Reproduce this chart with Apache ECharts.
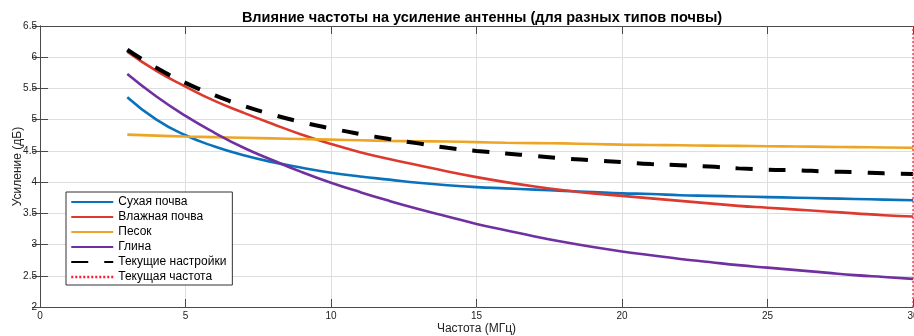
<!DOCTYPE html>
<html>
<head>
<meta charset="utf-8">
<script src="https://cdn.jsdelivr.net/npm/echarts@6/dist/echarts.min.js"></script>
<style>
  html, body { margin: 0; padding: 0; background: #fff; }
  #chart { width: 914px; height: 336px; }
</style>
</head>
<body>
<div id="chart"></div>
<script>
// Frequency grid, MHz
const freq = [3, 4, 5, 6, 7, 8, 9, 10, 11, 12, 13, 14, 15, 16, 17, 18, 19, 20,
              21, 22, 23, 24, 25, 26, 27, 28, 29, 30];

// Antenna gain, dB, per soil type
const drySoil = [5.36, 5.00, 4.75, 4.57, 4.43, 4.32, 4.23, 4.15, 4.09, 4.04, 3.99, 3.95, 3.92, 3.90,
                 3.88, 3.86, 3.84, 3.82, 3.81, 3.79, 3.78, 3.77, 3.76, 3.75, 3.74, 3.73, 3.72, 3.71];
const wetSoil = [6.09, 5.78, 5.53, 5.30, 5.11, 4.93, 4.76, 4.61, 4.48, 4.37, 4.27, 4.17, 4.08, 4.00,
                 3.93, 3.87, 3.82, 3.78, 3.74, 3.70, 3.66, 3.62, 3.59, 3.56, 3.53, 3.50, 3.47, 3.45];
const sand    = [4.76, 4.745, 4.73, 4.72, 4.71, 4.70, 4.69, 4.68, 4.67, 4.66, 4.655, 4.65, 4.64, 4.63,
                 4.625, 4.62, 4.61, 4.60, 4.595, 4.59, 4.585, 4.58, 4.575, 4.57, 4.565, 4.56, 4.555, 4.55];
const clay    = [5.73, 5.37, 5.06, 4.79, 4.55, 4.35, 4.16, 3.99, 3.84, 3.70, 3.57, 3.45, 3.33, 3.23,
                 3.13, 3.04, 2.96, 2.89, 2.83, 2.77, 2.72, 2.67, 2.63, 2.59, 2.55, 2.51, 2.48, 2.45];
const current = [6.12, 5.83, 5.59, 5.39, 5.22, 5.08, 4.96, 4.86, 4.77, 4.69, 4.62, 4.55, 4.50, 4.46,
                 4.42, 4.38, 4.35, 4.32, 4.29, 4.27, 4.25, 4.22, 4.20, 4.19, 4.17, 4.16, 4.14, 4.13];

// Currently selected frequency (vertical marker)
const currentFreq = 30;

const seriesNames = ['Сухая почва', 'Влажная почва', 'Песок', 'Глина',
                     'Текущие настройки', 'Текущая частота'];

const xRange = [0, 30];
const yRange = [2, 6.5];

const font = 'Liberation Sans, Arial, Helvetica, sans-serif';

function pairs(ys) { return freq.map((f, i) => [f, ys[i]]); }

function curve(name, ys, color) {
  return {
    name, type: 'line', data: pairs(ys), showSymbol: false, symbol: 'none',
    smooth: true,
    lineStyle: { color, width: 2.6 }, itemStyle: { color },
    xAxisIndex: 0, yAxisIndex: 0, z: 3
  };
}

const chart = echarts.init(document.getElementById('chart'), null, { renderer: 'canvas' });

const axisLineStyle = { color: '#4a4a4a', width: 1 };

// Legend entries; the frequency marker gets a bolder sample than its plotted line
const legendData = seriesNames.map((n, i) =>
  i === 5 ? { name: n, lineStyle: { width: 2.5, type: [2, 2] } } : { name: n });

chart.setOption({
  animation: false,
  backgroundColor: '#ffffff',
  textStyle: { fontFamily: font },
  title: {
    text: 'Влияние частоты на усиление антенны (для разных типов почвы)',
    left: 477, top: 5, textAlign: 'center',
    textStyle: { fontSize: 14.5, fontWeight: 'bold', color: '#000', fontFamily: font }
  },
  grid: { left: 40, right: 1, top: 26, bottom: 29, containLabel: false, outerBoundsMode: 'none' },
  legend: {
    orient: 'vertical', left: 66, top: 192,
    data: legendData,
    itemWidth: 42, itemHeight: 12, itemGap: 3,
    padding: [4, 6, 2, 4],
    backgroundColor: '#ffffff', borderColor: '#333333', borderWidth: 1,
    itemStyle: { opacity: 0 },
    textStyle: { fontSize: 12, color: '#000', fontFamily: font }
  },
  xAxis: [{
    type: 'value', min: xRange[0], max: xRange[1], interval: 5,
    name: 'Частота (МГц)', nameLocation: 'middle', nameGap: 16, nameMoveOverlap: false,
    nameTextStyle: { fontSize: 12, color: '#222', fontFamily: font },
    axisLine: { show: true, lineStyle: axisLineStyle },
    axisTick: { show: true, inside: true, length: 8, lineStyle: axisLineStyle },
    axisLabel: { fontSize: 10, color: '#222', margin: 4, showMaxLabel: true, fontFamily: font },
    splitLine: { show: true, lineStyle: { color: '#dedede', width: 1 } }
  }, {
    type: 'value', position: 'top', min: xRange[0], max: xRange[1], interval: 5,
    axisLine: { show: true, lineStyle: axisLineStyle },
    axisTick: { show: true, inside: true, length: 8, lineStyle: axisLineStyle },
    axisLabel: { show: false }, splitLine: { show: false }
  }],
  yAxis: [{
    type: 'value', min: yRange[0], max: yRange[1], interval: 0.5,
    name: 'Усиление (дБ)', nameLocation: 'middle', nameGap: 16, nameRotate: 90, nameMoveOverlap: false,
    nameTextStyle: { fontSize: 12, color: '#222', fontFamily: font },
    axisLine: { show: true, lineStyle: axisLineStyle },
    axisTick: { show: true, inside: true, length: 8, lineStyle: axisLineStyle },
    axisLabel: { fontSize: 10, color: '#222', margin: 3, fontFamily: font },
    splitLine: { show: true, lineStyle: { color: '#dedede', width: 1 } }
  }, {
    type: 'value', position: 'right', min: yRange[0], max: yRange[1], interval: 0.5,
    axisLine: { show: true, lineStyle: axisLineStyle },
    axisTick: { show: true, inside: true, length: 8, lineStyle: axisLineStyle },
    axisLabel: { show: false }, splitLine: { show: false }
  }],
  series: [
    curve(seriesNames[0], drySoil, '#0a72bd'),
    curve(seriesNames[1], wetSoil, '#dc3a2e'),
    curve(seriesNames[2], sand, '#eba628'),
    curve(seriesNames[3], clay, '#7030a0'),
    {
      name: seriesNames[4], type: 'line', data: pairs(current), showSymbol: false, symbol: 'none',
      smooth: true,
      lineStyle: { color: '#000', width: 4, type: [17, 16] }, itemStyle: { color: '#000' },
      z: 4
    },
    {
      name: seriesNames[5], type: 'line',
      data: [[currentFreq, yRange[0]], [currentFreq, yRange[1]]],
      showSymbol: false, symbol: 'none',
      lineStyle: { color: '#ff1a33', width: 1.2, type: [2, 2] }, itemStyle: { color: '#ff1a33' },
      z: 5
    }
  ]
});
</script>
</body>
</html>
